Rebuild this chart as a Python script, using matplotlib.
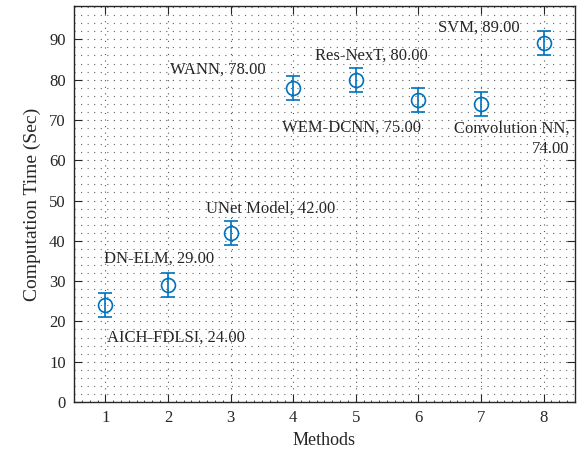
import numpy as np
import matplotlib.pyplot as plt
from matplotlib.ticker import MultipleLocator

methods = [1, 2, 3, 4, 5, 6, 7, 8]
times = [24, 29, 42, 78, 80, 75, 74, 89]
errors = [3, 3, 3, 3, 3, 3, 3, 3]
names = ["AICH-FDLSI", "DN-ELM", "UNet Model", "WANN", "Res-NexT",
         "WEM-DCNN", "Convolution NN,\n", "SVM"]

# label anchor positions (data coords) and alignment
label_pos = [(1.03, 15.9, "left"), (0.98, 35.7, "left"), (2.6, 47.9, "left"),
             (2.04, 82.6, "left"), (4.35, 86.0, "left"), (3.83, 68.0, "left"),
             (8.42, 65.3, "right"), (6.31, 92.8, "left")]

plt.rcParams['font.family'] = ['Liberation Serif', 'DejaVu Serif']

fig = plt.figure(figsize=(5.83, 4.55), dpi=100)
ax = fig.add_axes([0.127, 0.1165, 0.859, 0.8705])

blue = "#0072BD"
ax.errorbar(methods, times, yerr=errors, fmt='o', mfc='none', mec=blue,
            ecolor=blue, color=blue, markersize=10, markeredgewidth=1.2,
            elinewidth=1.2, capsize=5, capthick=1.2, zorder=3)

for i in range(len(methods)):
    x, y, ha = label_pos[i]
    if names[i].endswith("\n"):
        txt = names[i] + "%.2f" % times[i]
    else:
        txt = "%s, %.2f" % (names[i], times[i])
    ax.text(x, y, txt, ha=ha, va='center', fontsize=12, color='#262626',
            multialignment='right', linespacing=1.3)

ax.set_xlim(0.5, 8.5)
ax.set_ylim(0, 98.3)
ax.set_xticks(methods)
ax.xaxis.set_minor_locator(MultipleLocator(0.125))
ax.yaxis.set_major_locator(MultipleLocator(10))
ax.yaxis.set_minor_locator(MultipleLocator(2))

ax.grid(which='major', linestyle=(0, (1, 4.9)), color='#555555', linewidth=0.8)
ax.grid(which='minor', axis='y', linestyle=(0, (1, 4.9)), color='#666666',
        linewidth=0.8)

ax.tick_params(which='major', direction='in', top=True, right=True,
               length=6, labelsize=12, colors='#262626', pad=6)
ax.tick_params(axis='y', which='minor', length=0)
ax.tick_params(axis='x', which='minor', direction='in', top=False,
               length=1.5, color='#262626')
for s in ax.spines.values():
    s.set_color('#262626')
    s.set_linewidth(1.0)

ax.set_xlabel("Methods", fontsize=13, color='#262626', labelpad=4)
ax.set_ylabel("Computation Time (Sec)", fontsize=14, color='#262626',
              labelpad=6)

fig.savefig("out.png", dpi=100)
